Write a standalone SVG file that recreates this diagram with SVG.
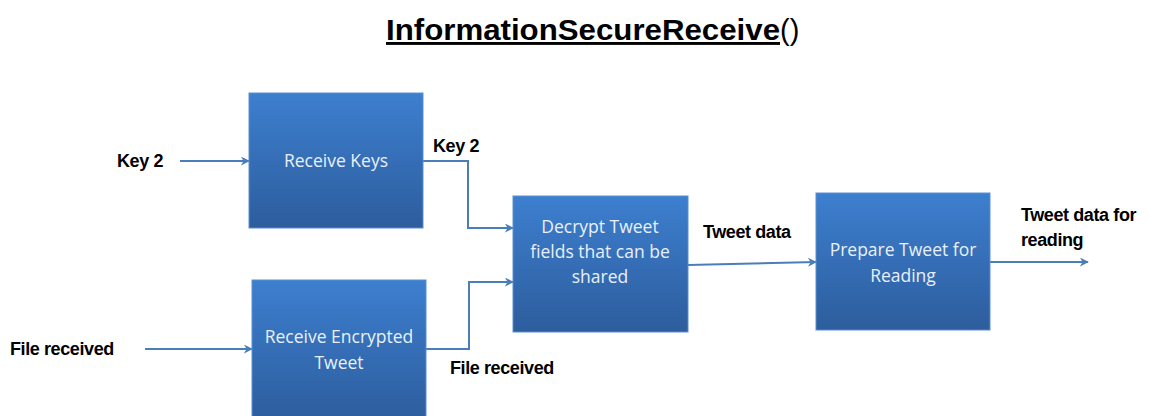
<svg xmlns="http://www.w3.org/2000/svg" width="1149" height="416" viewBox="0 0 1149 416">
<defs>
<linearGradient id="boxfill" x1="0" y1="0" x2="0" y2="1">
<stop offset="0" stop-color="#3d7fcf"/>
<stop offset="1" stop-color="#2d5d9d"/>
</linearGradient>
<marker id="arr" viewBox="0 0 10 10" refX="9" refY="5" markerWidth="4.5" markerHeight="4.5" orient="auto" markerUnits="strokeWidth">
<path d="M0,0 L10,5 L0,10 L3,5 Z" fill="#4a7ebb"/>
</marker>
<style>
.box{fill:url(#boxfill);stroke:#5a8fcf;stroke-width:1}
.bt{font-family:"Open Sans","Liberation Sans",sans-serif;font-size:17.5px;fill:#e9f0fa;text-anchor:middle}
.lbl{font-family:"Liberation Sans",Arial,sans-serif;font-size:18px;font-weight:bold;fill:#000;letter-spacing:-0.4px}
.con{fill:none;stroke:#4a7ebb;stroke-width:2;marker-end:url(#arr)}
.title{font-family:"Liberation Sans",Arial,sans-serif;font-size:29px;fill:#000}
</style>
</defs>
<rect width="1149" height="416" fill="#ffffff"/>
<g id="title">
<text class="title" x="386" y="40"><tspan font-weight="bold" text-decoration="underline" textLength="394" lengthAdjust="spacingAndGlyphs">InformationSecureReceive</tspan><tspan>()</tspan></text>
</g>
<g id="connectors">
<path class="con" d="M180,161 L249,161"/>
<path class="con" d="M423,161 L468,161 L468,228 L513,228"/>
<path class="con" d="M145,349 L252,349"/>
<path class="con" d="M426,349 L469,349 L469,282 L513,282"/>
<path class="con" d="M688,265 L816,262"/>
<path class="con" d="M990,262 L1088,262"/>
</g>
<g id="labels">
<text class="lbl" x="117" y="167">Key 2</text>
<text class="lbl" x="433" y="152">Key 2</text>
<text class="lbl" x="10" y="355">File received</text>
<text class="lbl" x="450" y="374">File received</text>
<text class="lbl" x="703" y="238">Tweet data</text>
<text class="lbl" x="1021" y="221">Tweet data for</text>
<text class="lbl" x="1021" y="246">reading</text>
</g>
<g id="receive-keys">
<rect class="box" x="249" y="93" width="174" height="135"/>
<text class="bt" x="336" y="167">Receive Keys</text>
</g>
<g id="receive-encrypted-tweet">
<rect class="box" x="252" y="280" width="174" height="140"/>
<text class="bt" x="339" y="343">Receive Encrypted</text>
<text class="bt" x="339" y="369">Tweet</text>
</g>
<g id="decrypt-tweet">
<rect class="box" x="513" y="196" width="175" height="136"/>
<text class="bt" x="600" y="233">Decrypt Tweet</text>
<text class="bt" x="600" y="258">fields that can be</text>
<text class="bt" x="600" y="283">shared</text>
</g>
<g id="prepare-tweet">
<rect class="box" x="816" y="193" width="174" height="137"/>
<text class="bt" x="903" y="256">Prepare Tweet for</text>
<text class="bt" x="903" y="282">Reading</text>
</g>
</svg>
